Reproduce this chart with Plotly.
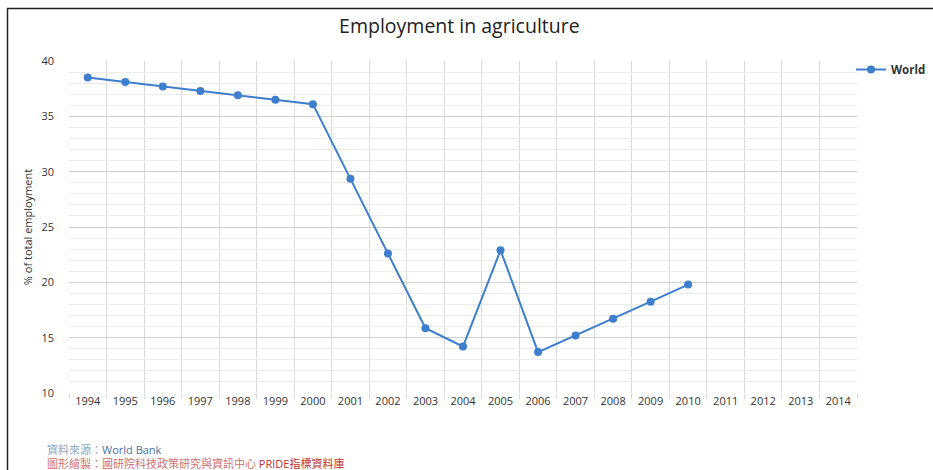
import plotly.graph_objects as go

years = list(range(1994, 2015))
data_years = list(range(1994, 2011))
world = [38.5, 38.1, 37.7, 37.3, 36.9, 36.5, 36.1, 29.35, 22.6, 15.85, 14.2, 22.9,
         13.7, 15.2, 16.7, 18.25, 19.8]
y_ticks = [10, 15, 20, 25, 30, 35, 40]

W, H = 933, 470
ML, MR, MT, MB = 69, 76, 61, 77
PW = W - ML - MR
PH = H - MT - MB

def px(x):
    return (x - ML) / PW

def py(y):
    return 1 - (y - MT) / PH

fig = go.Figure()
fig.add_trace(go.Scatter(
    x=data_years, y=world, mode="lines+markers", name="<b>World</b>",
    line=dict(color="#3d7fcc", width=2),
    marker=dict(color="#3d7fcc", size=8),
))

fig.update_layout(
    width=W, height=H,
    margin=dict(l=ML, r=MR, t=MT, b=MB, autoexpand=False),
    paper_bgcolor="white", plot_bgcolor="white",
    font=dict(family="Open Sans, DejaVu Sans, sans-serif", color="#333333"),
    title=dict(text="Employment in agriculture", x=px(457), xanchor="center",
               y=1 - 26 / H, yanchor="middle",
               font=dict(size=19.5, color="#222222")),
    showlegend=True,
    legend=dict(x=px(851), xanchor="left", y=py(55), yanchor="top",
                bgcolor="rgba(0,0,0,0)", itemwidth=30,
                font=dict(size=11.5, color="#333333", family="Open Sans, sans-serif")),
    xaxis=dict(
        range=[1993.5, 2014.5], tickmode="array", tickvals=years,
        ticktext=[str(y) for y in years], showgrid=False, ticks="",
        tickfont=dict(size=11, color="#333333"), zeroline=False,
        showline=False,
        minor=dict(tickmode="linear", tick0=1993.5, dtick=1, showgrid=True,
                   gridcolor="#d9d9d9", gridwidth=1, ticks="outside",
                   ticklen=5, tickcolor="#d9d9d9"),
    ),
    yaxis=dict(
        range=[10, 40], tickvals=y_ticks, showgrid=True, gridcolor="#d0d0d0",
        gridwidth=1, zeroline=False, tickfont=dict(size=11, color="#333333"),
        ticklabelstandoff=14,
        title=dict(text="% of total employment", font=dict(size=11, color="#333333"),
                   standoff=6),
        minor=dict(tickmode="linear", tick0=10, dtick=1, showgrid=True,
                   gridcolor="#ebebeb", gridwidth=1),
    ),
)

# frame border lines (left and top)
fig.add_shape(type="line", xref="paper", yref="paper", x0=px(7), x1=px(933),
              y0=py(8.5), y1=py(8.5), line=dict(color="#222222", width=1.5))
fig.add_shape(type="line", xref="paper", yref="paper", x0=px(7.5), x1=px(7.5),
              y0=py(8.5), y1=py(470), line=dict(color="#222222", width=1.5))

fig.add_annotation(xref="paper", yref="paper", x=px(45), y=py(456),
                   xanchor="left", yanchor="middle", align="left", showarrow=False,
                   text=("<span style='color:#8aa6c8'>資料來源：</span>World Bank<br>"
                         "<span style='color:#d07070'>圖形繪製：國研院科技政策研究與資訊中心</span>"
                         "<span style='color:#c03030'> PRIDE指標資料庫</span>"),
                   font=dict(size=11, color="#4a72a8", family="Open Sans, Noto Sans CJK TC"))

fig.write_html("out.html")
